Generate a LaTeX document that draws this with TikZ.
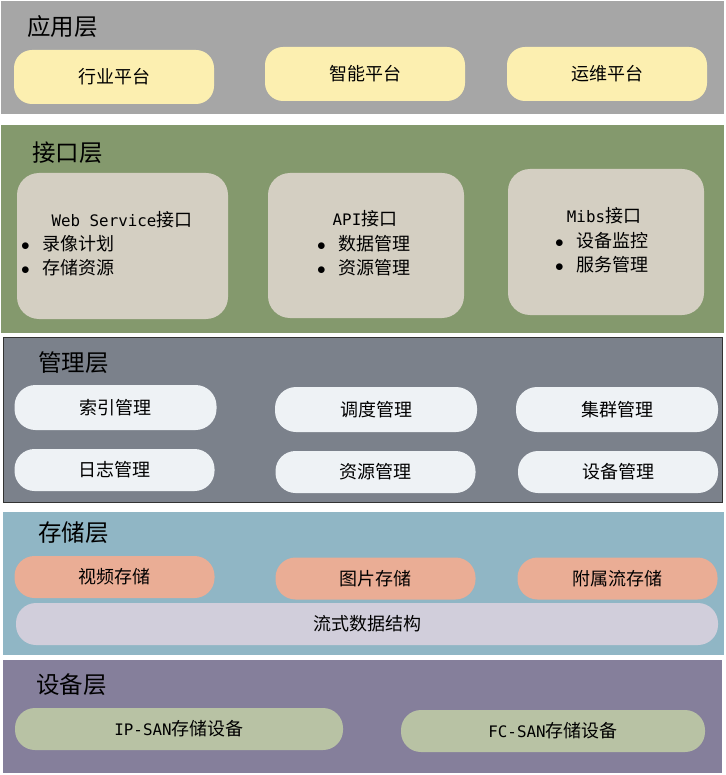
\documentclass[tikz,border=0pt]{standalone}
\usepackage{fontspec}
\newfontfamily\cjk{Noto Sans CJK SC}
\newfontfamily\latin[Scale=0.88]{DejaVu Sans Mono}
\usetikzlibrary{positioning}

\newcommand{\itm}[1]{\makebox[21pt][l]{$\bullet$}#1}

\begin{document}
\begin{tikzpicture}[x=1pt,y=-1pt,
  layertitle/.style={anchor=west,inner sep=0pt,font=\cjk\fontsize{23.5}{26}\selectfont},
  pill/.style={rounded corners=#1,inner sep=0pt,font=\cjk\fontsize{18}{21}\selectfont},
  itemtext/.style={anchor=west,inner sep=0pt,font=\cjk\fontsize{18}{21}\selectfont}]
\useasboundingbox (0,0) rectangle (725,775);
% Layer colours, one group per layer

% Application layer (top)
\definecolor{appbg}{HTML}{A6A6A6}
\definecolor{appbox}{HTML}{FCEFB0}
\fill[appbg] (1,1) rectangle (724,114);
\node[layertitle] (apptitle) at (27,27) {应用层};
\foreach \name/\x/\y/\txt in {hangye/114/77/行业平台,zhineng/365/74/智能平台,yunwei/607/74/运维平台} {
  \node[pill=18pt,fill=appbox,minimum width=200pt,minimum height=54pt] (\name) at (\x,\y) {\txt};
}

% Interface layer
\definecolor{ifbg}{HTML}{84996D}
\definecolor{ifbox}{HTML}{D4CFC2}
\fill[ifbg] (1,125) rectangle (724,333);
\node[layertitle] (iftitle) at (32,153) {接口层};
\node[pill=22pt,fill=ifbox,minimum width=211pt,minimum height=146pt] (ws) at (122.5,246) {};
\node[pill=22pt,fill=ifbox,minimum width=196pt,minimum height=145pt] (api) at (366,245.5) {};
\node[pill=22pt,fill=ifbox,minimum width=196pt,minimum height=146pt] (mibs) at (606,242) {};
\node[pill=0pt] (wshead) at (122,220) {{\latin Web Service}接口};
\node[itemtext] (ws1) at (21,244) {\itm{录像计划}};
\node[itemtext] (ws2) at (21,268) {\itm{存储资源}};
\node[pill=0pt] (apihead) at (365,219) {{\latin API}接口};
\node[itemtext] (api1) at (317,244) {\itm{数据管理}};
\node[itemtext] (api2) at (317,268) {\itm{资源管理}};
\node[pill=0pt] (mibshead) at (604,216) {{\latin Mibs}接口};
\node[itemtext] (mibs1) at (555,241) {\itm{设备监控}};
\node[itemtext] (mibs2) at (555,265) {\itm{服务管理}};

% Management layer (with dark border)
\definecolor{mgbg}{HTML}{7B818B}
\definecolor{mgbox}{HTML}{EEF2F5}
\draw[fill=mgbg,draw=black!80] (3.5,337.5) rectangle (722.5,502.5);
\node[layertitle] (mgtitle) at (38,363) {管理层};
\foreach \name/\x/\y/\txt in {suoyin/115.5/407.5/索引管理,diaodu/376/409.5/调度管理,jiqun/617/409.5/集群管理} {
  \node[pill=21pt,fill=mgbox,minimum width=202pt,minimum height=45pt] (\name) at (\x,\y) {\txt};
}
\foreach \name/\x/\y/\txt in {rizhi/114.5/470/日志管理,ziyuan/375.5/472/资源管理,shebei/618/472/设备管理} {
  \node[pill=20pt,fill=mgbox,minimum width=200pt,minimum height=42pt] (\name) at (\x,\y) {\txt};
}

% Storage layer
\definecolor{stbg}{HTML}{90B6C5}
\definecolor{stbox}{HTML}{EAAD95}
\definecolor{flowbox}{HTML}{D1CEDB}
\fill[stbg] (3,512) rectangle (724,655);
\node[layertitle] (sttitle) at (38,533) {存储层};
\foreach \name/\x/\y/\txt in {shipin/114.5/577/视频存储,tupian/375.5/578.5/图片存储,fushu/617.5/578.5/附属流存储} {
  \node[pill=20pt,fill=stbox,minimum width=200pt,minimum height=42pt] (\name) at (\x,\y) {\txt};
}
\node[pill=20pt,fill=flowbox,minimum width=702pt,minimum height=42pt] (liushi) at (367,624) {流式数据结构};

% Device layer (bottom)
\definecolor{dvbg}{HTML}{857F9B}
\definecolor{dvbox}{HTML}{B8C2A4}
\fill[dvbg] (3,660) rectangle (722,773);
\node[layertitle] (dvtitle) at (36,685) {设备层};
\node[pill=20pt,fill=dvbox,minimum width=328pt,minimum height=42pt] (ipsan) at (179,729) {{\latin IP-SAN}存储设备};
\node[pill=20pt,fill=dvbox,minimum width=304pt,minimum height=42pt] (fcsan) at (553,731) {{\latin FC-SAN}存储设备};
\end{tikzpicture}
\end{document}
